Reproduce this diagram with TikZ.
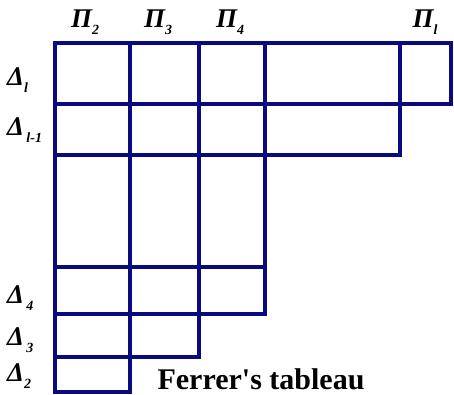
\documentclass[tikz,border=0pt]{standalone}
\usepackage{fontspec}
\setmainfont{Liberation Serif}
\usetikzlibrary{positioning}
\definecolor{gridline}{HTML}{0A0A80}
\newcommand{\lowsub}[1]{\raisebox{-0.55ex}{\fontsize{14}{14}\selectfont #1}}

\begin{document}
\begin{tikzpicture}[
  x=1pt, y=-1pt,
  grid/.style  = {draw=gridline, line width=3.8pt, line cap=rect},
  plab/.style  = {font=\fontsize{27}{29}\selectfont\bfseries\itshape, inner sep=0pt},
  dlab/.style  = {plab, anchor=west},
  title/.style = {font=\fontsize{30}{32}\selectfont\bfseries, inner sep=0pt},
]
\useasboundingbox (0,0) rectangle (454,394);

%% ---------------------------------------------------------------- grid
\foreach \x/\n in {55/0, 130/1, 199/2, 265/3, 400/4, 451/5}
  \coordinate (c\n) at (\x,0);
\foreach \y/\n in {43/0, 104/1, 155/2, 267/3, 314/4, 357/5, 392/6}
  \coordinate (r\n) at (0,\y);

% rows
\foreach \r/\c in {0/5, 1/5, 2/4, 3/3, 4/3, 5/2, 6/1}
  \draw[grid] (c0 |- r\r) -- (c\c |- r\r);
% columns
\foreach \c/\r in {0/6, 1/6, 2/5, 3/4, 4/2, 5/1}
  \draw[grid] (c\c |- r0) -- (c\c |- r\r);

%% ---------------------------------------------------------------- labels
\node[plab] (p2) at (85,22)  {Π\lowsub{2}};
\node[plab] (p3) at (158,22) {Π\lowsub{3}};
\node[plab] (p4) at (230,22) {Π\lowsub{4}};
\node[plab] (pl) at (425,22) {Π\lowsub{l}};

\node[dlab] (d1) at (7,80)  {Δ\lowsub{l}};
\node[dlab] (dl) at (7,130) {Δ\lowsub{\,l-1}};
\node[dlab] (d4) at (7,298) {Δ\lowsub{\,4}};
\node[dlab] (d3) at (7,340) {Δ\lowsub{\,3}};
\node[dlab] (d2) at (7,376) {Δ\lowsub{2}};

\node[title, anchor=base] (ftab) at (261,389) {Ferrer\textquotesingle s tableau};
\end{tikzpicture}
\end{document}
